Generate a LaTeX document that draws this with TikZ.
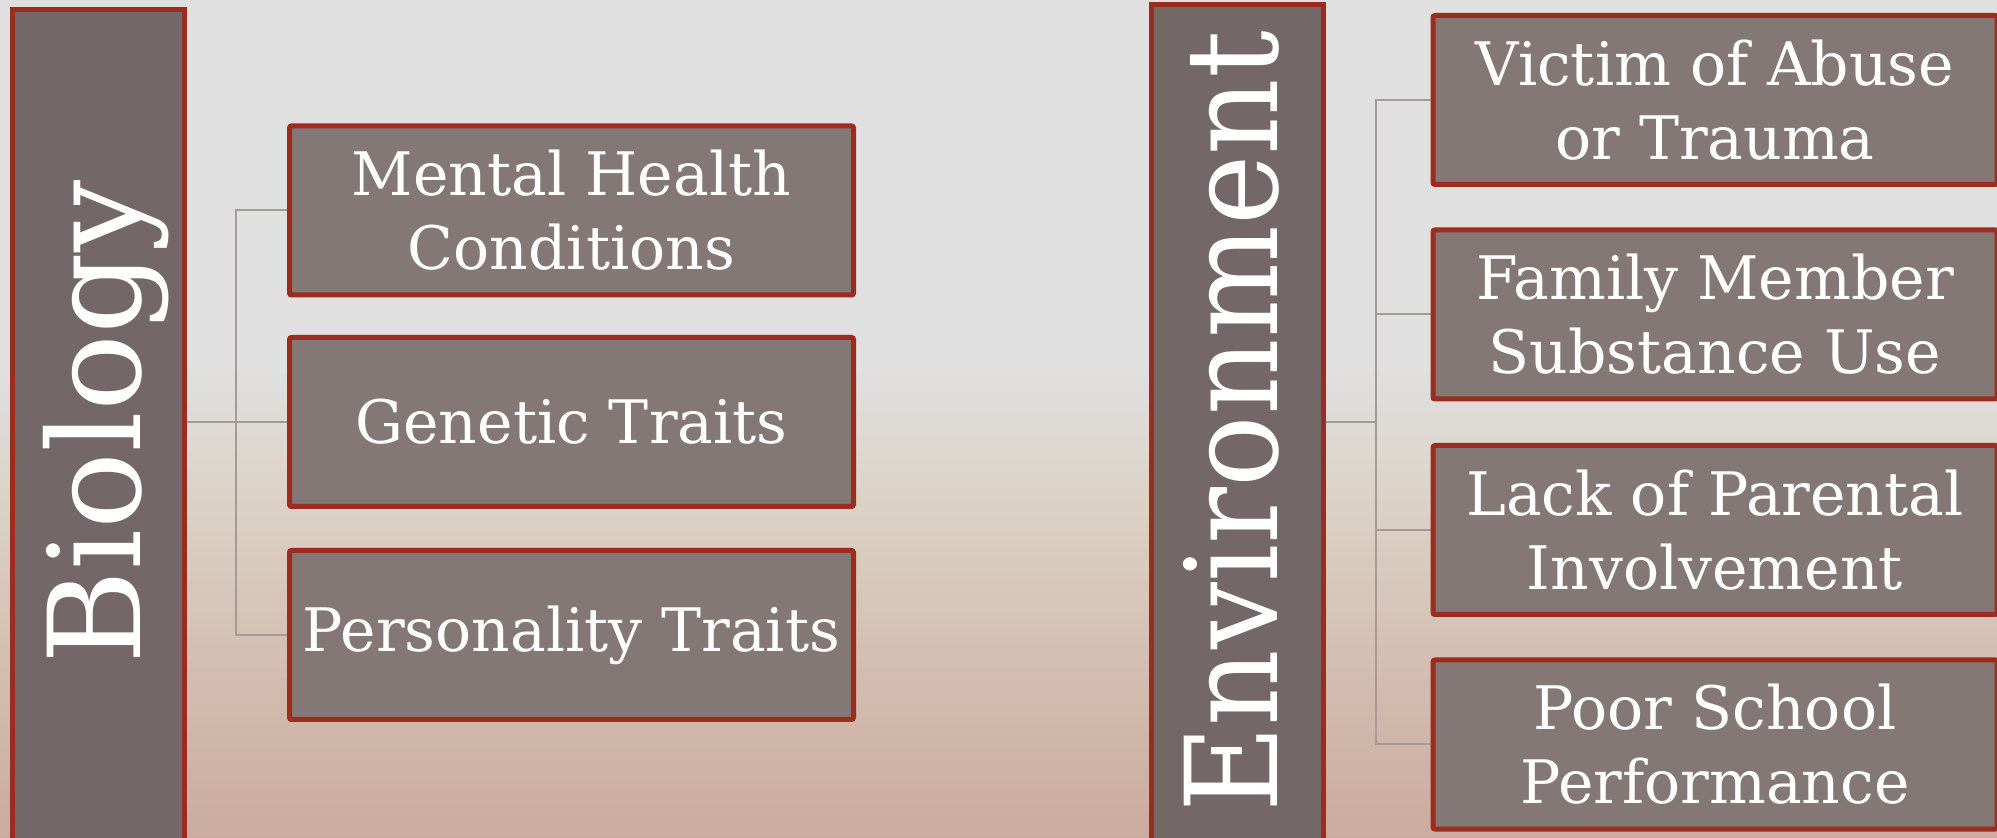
\documentclass[tikz,border=0pt]{standalone}
\usepackage{fontspec}
\setmainfont{DejaVu Serif}
\usetikzlibrary{backgrounds}

\definecolor{framered}{HTML}{9C2C1F}
\definecolor{mainfill}{HTML}{736767}
\definecolor{subfill}{HTML}{847876}
\definecolor{linkgray}{HTML}{A39B9B}
\definecolor{bgtop}{HTML}{E0E0E0}
\definecolor{bgtan}{HTML}{DBD2C5}
\definecolor{bgrose}{HTML}{D4BFB2}
\definecolor{bgbottom}{HTML}{CBAB9F}

\pgfdeclareverticalshading{backdrop}{100bp}{color(0bp)=(bgbottom); color(25bp)=(bgbottom); color(36bp)=(bgrose); color(45bp)=(bgtan); color(53bp)=(bgtop); color(100bp)=(bgtop)}

\tikzset{
  mainbox/.style={draw=framered, line width=2.5pt, fill=mainfill, minimum width=86pt},
  maintext/.style={text=white, font=\fontsize{64}{70}\selectfont, rotate=90, anchor=base},
  subbox/.style={draw=framered, line width=2.5pt, fill=subfill, rounded corners=1pt,
    minimum width=282pt, minimum height=84.5pt, text=white, align=center,
    font=\fontsize{30}{37}\selectfont},
  link/.style={draw=linkgray, line width=1pt}
}

\begin{document}
\begin{tikzpicture}[x=0.5pt, y=-0.5pt]
\useasboundingbox (0,0) rectangle (1997,838);

% left group
\node (bio) [mainbox, minimum height=425pt] at (98.5,435) {};
\node (biotext) [maintext] at (140,422) {Biology};
\node (mental) [subbox] at (571.5,210.5) {Mental Health\\Conditions};
\node (genetic) [subbox] at (571.5,422) {Genetic Traits};
\node (personality) [subbox] at (571.5,635) {Personality Traits};

% right group
\node (env) [mainbox, minimum height=430pt] at (1237.5,435) {};
\node (envtext) [maintext] at (1277,422) {\scalebox{0.93}[1]{Environment}};
\node (victim) [subbox] at (1715,100) {Victim of Abuse\\or Trauma};
\node (family) [subbox] at (1715,314.5) {Family Member\\Substance Use};
\node (parental) [subbox] at (1715,530) {Lack of Parental\\Involvement};
\node (school) [subbox] at (1715,744.5) {Poor School\\Performance};

\coordinate (bioj) at (236,422);
\coordinate (envj) at (1375.5,422);

\begin{scope}[on background layer]
\shade[shading=backdrop] (0,0) rectangle (1997,838);
\draw[link] (bio.east |- genetic) -- (genetic.west);
\draw[link] (mental.west) -- (mental.west -| bioj) -- (personality.west -| bioj) -- (personality.west);
\draw[link] (env.east |- envj) -- (envj);
\draw[link] (victim.west) -- (victim.west -| envj) -- (school.west -| envj) -- (school.west);
\draw[link] (family.west -| envj) -- (family.west); % middle branches
\draw[link] (parental.west -| envj) -- (parental.west);
\end{scope}
\end{tikzpicture}
\end{document}
